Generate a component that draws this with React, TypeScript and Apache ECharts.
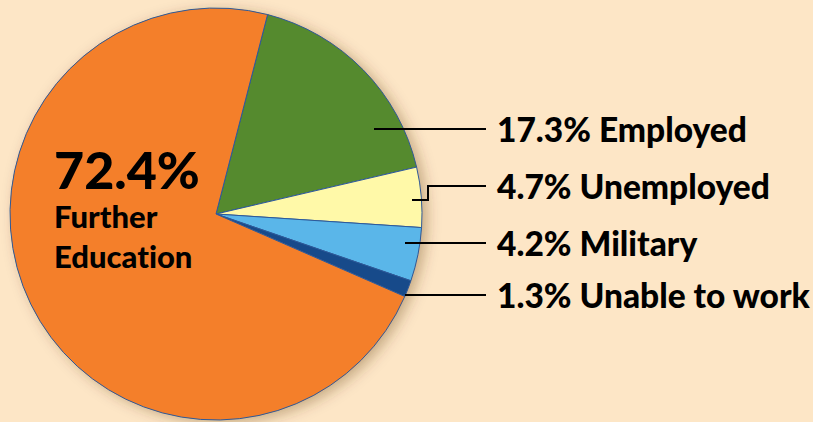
import React, { useEffect, useRef } from "react";
import * as echarts from "echarts";

const categories = ["Employed", "Unemployed", "Military", "Unable to work", "Further Education"];
const values = [17.3, 4.7, 4.2, 1.3, 72.4];
const colors = ["#558a2e", "#fff9a8", "#5ab6e9", "#174a8a", "#f47f2a"];

// label layout (positions only)
const labelPos = [
  { x: 497, y: 129, line: [[374, 129], [486, 129]] },
  { x: 497, y: 186, line: [[412, 200], [428, 200], [428, 186], [486, 186]] },
  { x: 497, y: 243, line: [[405, 243], [486, 243]] },
  { x: 497, y: 295, line: [[405, 295], [486, 295]] },
  { x: 54, y: 142, line: null },
];

export default function App() {
  const ref = useRef<HTMLDivElement>(null);
  useEffect(() => {
    if (!ref.current) return;
    const chart = echarts.init(ref.current, null, { renderer: "svg" });
    const font = "Lato, 'Open Sans', sans-serif";
    chart.setOption({
      animation: false,
      backgroundColor: "#fde6c6",
      graphic: labelPos
        .filter((lp) => lp.line)
        .map((lp) => ({
          type: "polyline",
          z: 100,
          silent: true,
          shape: { points: lp.line },
          style: { stroke: "#000", lineWidth: 2, fill: null },
        })),
      series: [
        {
          type: "pie",
          silent: true,
          center: [216, 214],
          radius: 206,
          label: { show: false },
          labelLine: { show: false },
          itemStyle: {
            color: "#f47f2a",
            shadowBlur: 14,
            shadowOffsetX: 5,
            shadowOffsetY: 3,
            shadowColor: "rgba(90,50,10,0.35)",
          },
          data: [{ value: 1, name: "shadow" }],
        },
        {
          type: "pie",
          silent: true,
          center: [216, 214],
          radius: 206,
          startAngle: 75.5,
          clockwise: true,
          avoidLabelOverlap: false,
          itemStyle: { borderColor: "#2d5a9a", borderWidth: 1 },
          label: {
            show: true,
            position: "outside",
            color: "#000",
            fontFamily: font,
            fontWeight: 900,
            fontSize: 33.5,
            formatter: (p: any) =>
              p.dataIndex === 4
                ? `{big|${p.value}%}\n{small|Further}\n{small|Education}`
                : `${p.value}% ${p.name}`,
            rich: {
              big: { fontSize: 52, lineHeight: 54, fontWeight: 900, fontFamily: font, color: "#000" },
              small: { fontSize: 31, lineHeight: 40, fontWeight: 900, fontFamily: font, color: "#000" },
            },
          },
          labelLine: { show: false },
          labelLayout: (params: any) => {
            const lp = labelPos[params.dataIndex];
            return {
              x: lp.x,
              y: lp.y,
              align: "left",
              verticalAlign: lp.line ? "middle" : "top",
            };
          },
          data: categories.map((c, i) => ({
            name: c,
            value: values[i],
            itemStyle: { color: colors[i] },
          })),
        },
      ],
    });
    return () => chart.dispose();
  }, []);
  return (
    <>
      <style>{`text{font-variant-ligatures:none;font-feature-settings:"liga" 0,"dlig" 0;}`}</style>
      <div
        ref={ref}
        style={{ position: "fixed", left: 0, top: 0, width: 813, height: 422 }}
      />
    </>
  );
}
